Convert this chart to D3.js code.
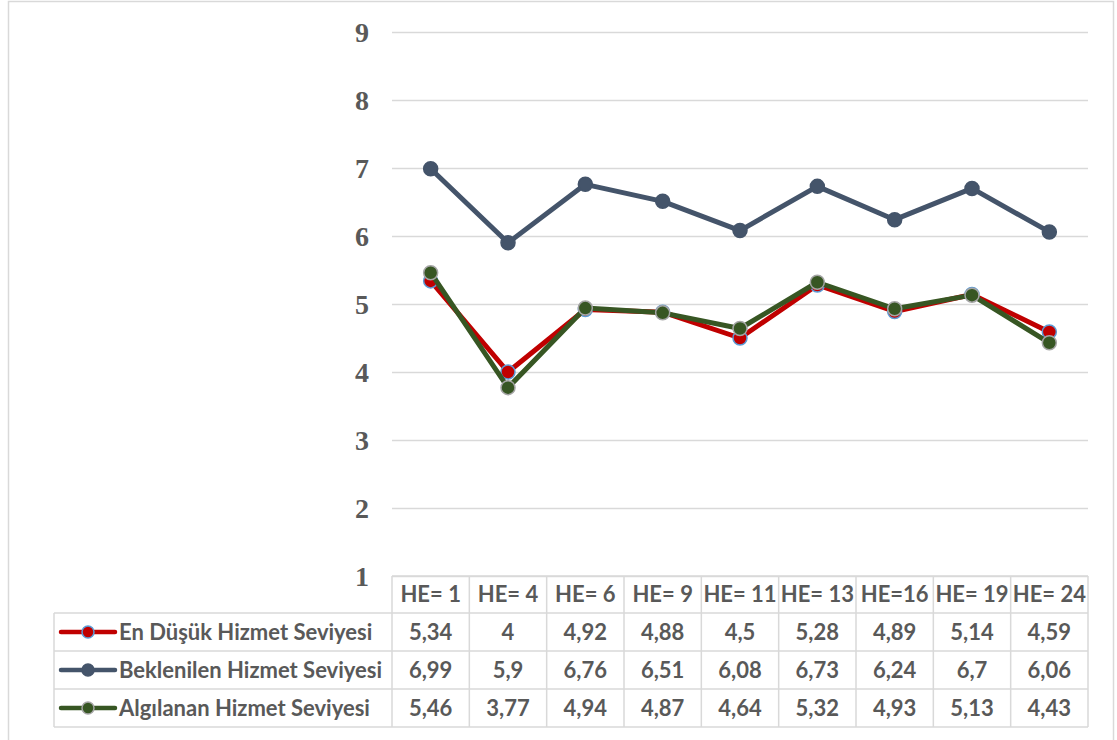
<!DOCTYPE html>
<html>
<head>
<meta charset="utf-8">
<script src="https://cdn.jsdelivr.net/npm/d3@7"></script>
<style>
  html, body { margin: 0; padding: 0; background: #fff; }
  svg { display: block; }
</style>
</head>
<body>
<svg id="chart" width="1117" height="740"></svg>
<script>
// Categories (time points) and the three service level series
const categories = ["HE= 1", "HE= 4", "HE= 6", "HE= 9", "HE= 11", "HE= 13", "HE=16", "HE= 19", "HE= 24"];
const enDusuk     = [5.34, 4, 4.92, 4.88, 4.5, 5.28, 4.89, 5.14, 4.59];
const beklenilen  = [6.99, 5.9, 6.76, 6.51, 6.08, 6.73, 6.24, 6.7, 6.06];
const algilanan   = [5.46, 3.77, 4.94, 4.87, 4.64, 5.32, 4.93, 5.13, 4.43];
const seriesNames = ["En Düşük Hizmet Seviyesi", "Beklenilen Hizmet Seviyesi", "Algılanan Hizmet Seviyesi"];
const yTicks = [1, 2, 3, 4, 5, 6, 7, 8, 9];

const series = [
  { name: seriesNames[0], values: enDusuk,    line: "#C00000", fill: "#C00000", edge: "#5B9BD5" },
  { name: seriesNames[1], values: beklenilen, line: "#44546A", fill: "#44546A", edge: "#44546A" },
  { name: seriesNames[2], values: algilanan,  line: "#375623", fill: "#375623", edge: "#A5A5A5" }
];

const svg = d3.select("#chart");
const gridColor = "#d9d9d9";
const textColor = "#595959";

// Outer frame
svg.append("rect")
  .attr("x", 8.5).attr("y", 1.5).attr("width", 1105).attr("height", 760)
  .attr("fill", "none").attr("stroke", gridColor).attr("stroke-width", 1.5);

const plotLeft = 392, plotRight = 1088, plotTop = 32, plotBottom = 576;

const x = d3.scaleBand().domain(categories).range([plotLeft, plotRight]);
const y = d3.scaleLinear().domain([1, 9]).range([plotBottom, plotTop]);

// Horizontal gridlines and value axis
const yAxis = d3.axisLeft(y).tickValues(yTicks).tickSize(-(plotRight - plotLeft)).tickPadding(23).tickFormat(d3.format("d"));
const gAxis = svg.append("g").attr("transform", `translate(${plotLeft},0)`).call(yAxis);
gAxis.select(".domain").remove();
gAxis.selectAll(".tick line").attr("stroke", gridColor).attr("stroke-width", 1.5);
gAxis.selectAll(".tick text")
  .attr("fill", textColor)
  .style("font-family", "'Liberation Serif', 'Times New Roman', serif")
  .style("font-weight", "bold")
  .style("font-size", "28px")
  .attr("dy", "0.33em");

// Lines and markers
const cx = c => x(c) + x.bandwidth() / 2;
const line = d3.line().x((d, i) => cx(categories[i])).y(d => y(d));

series.forEach(s => {
  const g = svg.append("g");
  g.append("path")
    .datum(s.values)
    .attr("d", line)
    .attr("fill", "none")
    .attr("stroke", s.line)
    .attr("stroke-width", 5)
    .attr("stroke-linejoin", "round")
    .attr("stroke-linecap", "round");
  g.selectAll("circle")
    .data(s.values)
    .join("circle")
    .attr("cx", (d, i) => cx(categories[i]))
    .attr("cy", d => y(d))
    .attr("r", 7)
    .attr("fill", s.fill)
    .attr("stroke", s.edge)
    .attr("stroke-width", 1.5);
});

// Data table below the chart
const rowTops = [576, 613, 651, 689, 727];
const legendLeft = 54;
const tableFont = "Lato, 'Open Sans', sans-serif";
const tableSize = "22px";
const fmt = v => String(v).replace(".", ",");

const table = svg.append("g");
// horizontal borders
rowTops.forEach((ry, i) => {
  table.append("line")
    .attr("x1", i === 0 ? plotLeft : legendLeft).attr("x2", plotRight)
    .attr("y1", ry).attr("y2", ry)
    .attr("stroke", gridColor).attr("stroke-width", 1.5);
});
// vertical borders
table.append("line")
  .attr("x1", legendLeft).attr("x2", legendLeft)
  .attr("y1", rowTops[1]).attr("y2", rowTops[4])
  .attr("stroke", gridColor).attr("stroke-width", 1.5);
categories.concat([null]).forEach(c => {
  const vx = c === null ? plotRight : x(c);
  table.append("line")
    .attr("x1", vx).attr("x2", vx)
    .attr("y1", rowTops[0]).attr("y2", rowTops[4])
    .attr("stroke", gridColor).attr("stroke-width", 1.5);
});

// header labels
table.selectAll("text.hdr")
  .data(categories)
  .join("text")
  .attr("class", "hdr")
  .attr("x", d => cx(d))
  .attr("y", (rowTops[0] + rowTops[1]) / 2)
  .attr("dy", "0.36em")
  .attr("text-anchor", "middle")
  .attr("fill", textColor)
  .style("font-family", tableFont)
  .style("font-weight", "bold")
  .style("font-size", tableSize)
  .text(d => d);

// series rows
series.forEach((s, si) => {
  const midY = (rowTops[si + 1] + rowTops[si + 2]) / 2;
  // legend key
  table.append("line")
    .attr("x1", 61).attr("x2", 115)
    .attr("y1", midY).attr("y2", midY)
    .attr("stroke", s.line).attr("stroke-width", 4.5)
    .attr("stroke-linecap", "round");
  table.append("circle")
    .attr("cx", 88).attr("cy", midY).attr("r", 6)
    .attr("fill", s.fill).attr("stroke", s.edge).attr("stroke-width", 1.5);
  table.append("text")
    .attr("x", 119).attr("y", midY).attr("dy", "0.36em")
    .attr("fill", textColor)
    .style("font-family", tableFont)
    .style("font-weight", "bold")
    .style("font-size", tableSize)
    .text(s.name);
  table.selectAll(null)
    .data(s.values)
    .join("text")
    .attr("x", (d, i) => cx(categories[i]))
    .attr("y", midY).attr("dy", "0.36em")
    .attr("text-anchor", "middle")
    .attr("fill", textColor)
    .style("font-family", tableFont)
    .style("font-weight", "bold")
    .style("font-size", tableSize)
    .text(d => fmt(d));
});
</script>
</body>
</html>
